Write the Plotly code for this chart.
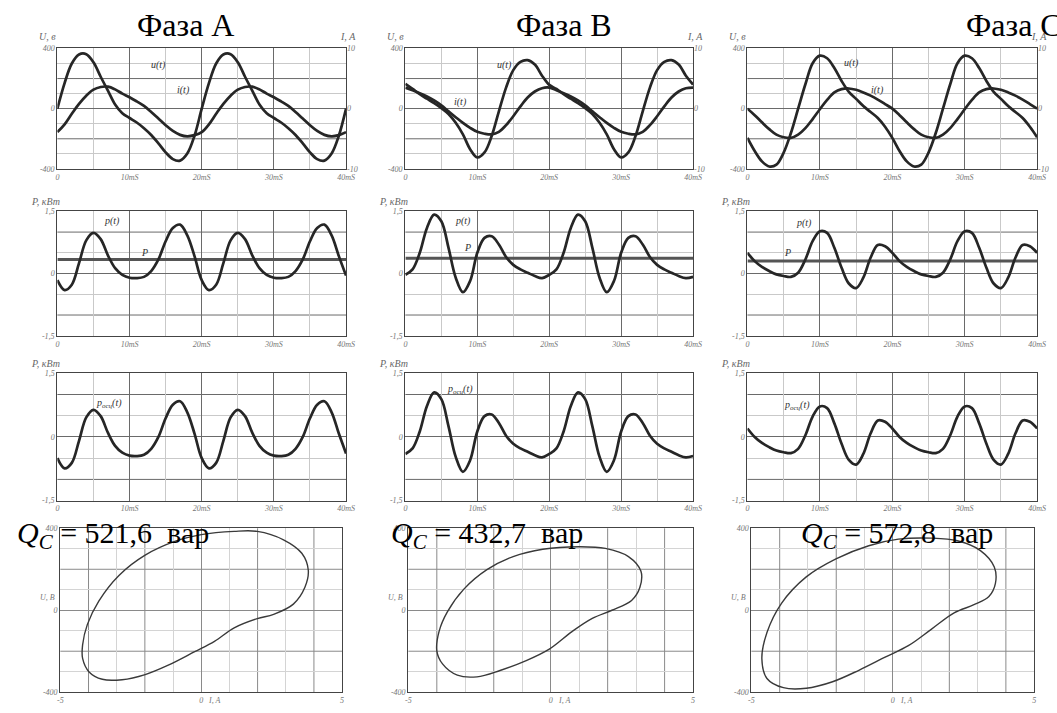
import plotly.graph_objects as go

W, H = 1057, 713

# ---------------- data ----------------
t_ms = list(range(0, 41))
x_tick_vals = [0, 10, 20, 30, 40]
x_tick_text = ["0", "10mS", "20mS", "30mS", "40mS"]
phase_titles = ["Фаза А", "Фаза В", "Фаза С"]
q_values = ["521,6", "432,7", "572,8"]

# phase A voltage (V) and current (A)
u_A = [0, 170, 300, 360, 362, 308, 212, 120, 28, -30, -62, -92, -130, -175, -230, -290, -335, -345, -298, -180,
       0, 170, 300, 360, 362, 308, 212, 120, 28, -30, -62, -92, -130, -175, -230, -290, -335, -345, -298, -180, 0]
i_A = [-3.9, -2.6, -0.85, 0.8, 2.15, 3.15, 3.6, 3.65, 3.2, 2.5, 1.9, 1.2, 0.45, -0.55, -1.65, -2.75, -3.7, -4.35, -4.6, -4.4,
       -3.9, -2.6, -0.85, 0.8, 2.15, 3.15, 3.6, 3.65, 3.2, 2.5, 1.9, 1.2, 0.45, -0.55, -1.65, -2.75, -3.7, -4.35, -4.6, -4.4, -3.9]
# phase B
u_B = [165, 131, 96, 66, 37, 4, -35, -94, -171, -269, -324, -291, -182, -18, 140, 256, 311, 322, 293, 219,
       158, 131, 96, 66, 37, 4, -35, -94, -171, -269, -324, -291, -182, -18, 140, 256, 311, 322, 293, 219, 160]
i_B = [3.5, 3.07, 2.58, 2.03, 1.37, 0.55, -0.44, -1.42, -2.36, -3.18, -3.84, -4.16, -4.27, -3.84, -2.74, -1.26, 0.38, 1.86, 2.85, 3.4,
       3.5, 3.07, 2.58, 2.03, 1.37, 0.55, -0.44, -1.42, -2.36, -3.18, -3.84, -4.16, -4.27, -3.84, -2.74, -1.26, 0.38, 1.86, 2.85, 3.4, 3.5]
# phase C
u_C = [-194, -281, -350, -384, -372, -292, -162, 0, 162, 302, 352, 335, 270, 184, 112, 65, 17, -22, -62, -120,
       -194, -281, -350, -384, -372, -292, -162, 0, 162, 302, 352, 335, 270, 184, 112, 65, 17, -22, -62, -120, -190]
i_C = [0, -1.08, -2.27, -3.4, -4.32, -4.75, -4.86, -4.32, -3.24, -1.73, -0.1, 1.46, 2.7, 3.24, 3.35, 3.13, 2.7, 2.16, 1.51, 0.76,
       0, -1.08, -2.27, -3.4, -4.32, -4.75, -4.86, -4.32, -3.24, -1.73, -0.1, 1.46, 2.7, 3.24, 3.35, 3.13, 2.7, 2.16, 1.51, 0.76, 0]

# instantaneous power (kW)
p_A = [-0.16, -0.40, -0.27, 0.25, 0.80, 0.98, 0.83, 0.44, 0.13, -0.03, -0.10, -0.11, -0.08, 0.06, 0.34, 0.78, 1.10, 1.18, 0.92, 0.42,
       -0.16, -0.40, -0.27, 0.25, 0.80, 0.98, 0.83, 0.44, 0.13, -0.03, -0.10, -0.11, -0.08, 0.06, 0.34, 0.78, 1.10, 1.18, 0.92, 0.42, -0.05]
p_B = [-0.03, 0.10, 0.50, 1.10, 1.42, 1.26, 0.62, -0.10, -0.45, -0.18, 0.50, 0.86, 0.90, 0.70, 0.40, 0.21, 0.10, 0.02, -0.06, -0.11,
       -0.03, 0.10, 0.50, 1.10, 1.42, 1.26, 0.62, -0.10, -0.45, -0.18, 0.50, 0.86, 0.90, 0.70, 0.40, 0.21, 0.10, 0.02, -0.06, -0.11, -0.08]
p_C = [0.50, 0.30, 0.16, 0.06, -0.02, -0.06, -0.08, 0.02, 0.34, 0.78, 1.02, 0.98, 0.62, 0.14, -0.24, -0.35, -0.10, 0.38, 0.69, 0.66,
       0.50, 0.30, 0.16, 0.06, -0.02, -0.06, -0.08, 0.02, 0.34, 0.78, 1.02, 0.98, 0.62, 0.14, -0.24, -0.35, -0.10, 0.38, 0.69, 0.66, 0.50]
# active (mean) power, kW
P_A = 0.34
P_B = 0.37
P_C = 0.30

# volt-ampere loops (I in A, U in V)
liss_i_A = [1.17, 1.99, 2.92, 3.57, 3.8, 3.68, 3.27, 2.57, 1.99, 1.17, 0.47, -0.23, -1.17, -1.99, -2.81, -3.51,
            -3.98, -4.21, -4.21, -4.04, -3.63, -2.92, -1.99, -0.94, 0.0, 1.17]
liss_u_A = [385, 385, 344, 278, 195, 112, 30, -20, -41, -86, -152, -202, -268, -314, -339, -337,
            -301, -235, -169, -69, 46, 170, 269, 336, 369, 385]
liss_i_B = [1.0, 1.92, 2.73, 3.17, 3.13, 2.84, 2.15, 1.46, 0.76, -0.05, -0.86, -1.78, -2.59, -3.28, -3.8,
            -4.0, -3.92, -3.63, -3.05, -2.24, -1.32, -0.28, 1.0]
liss_u_B = [310, 302, 262, 190, 111, 48, 0, -40, -103, -190, -246, -294, -325, -317, -262,
            -198, -103, -8, 103, 198, 262, 298, 310]
liss_i_C = [1.36, 2.29, 3.1, 3.59, 3.63, 3.4, 2.87, 2.17, 1.36, 0.55, -0.27, -1.2, -2.13, -3.06, -3.87,
            -4.45, -4.63, -4.45, -3.93, -3.06, -2.01, -0.85, 0.2, 1.36]
liss_u_C = [352, 339, 291, 211, 131, 67, 27, -13, -93, -173, -229, -293, -349, -381, -378,
            -333, -237, -109, 35, 163, 251, 315, 347, 352]

U_all = [u_A, u_B, u_C]
I_all = [i_A, i_B, i_C]
p_all = [p_A, p_B, p_C]
P_all = [P_A, P_B, P_C]
L_i = [liss_i_A, liss_i_B, liss_i_C]
L_u = [liss_u_A, liss_u_B, liss_u_C]

# ---------------- layout geometry (pixels) ----------------
col_px = [(55, 347), (407, 698), (753, 1046)]
row4_col_px = [(58, 343), (410, 698), (757, 1043)]
row_px = [(45, 167), (210, 336), (374, 503), (531, 697)]

def xd(a, b):
    return [a / W, b / W]

def yd(a, b):
    return [1 - b / H, 1 - a / H]

SERIF = "Liberation Serif"
tickfont = dict(family=SERIF, size=8, color="#777", style="italic")
LINE = "#262626"
MAJ = "#6a6a6a"
MIN = "#c9c9c9"
MAJ4 = "#8a8a8a"
MIN4 = "#d4d4d4"

fig = go.Figure()
layout = {}
shapes = []

def axname(k):
    return ("x" if k == 1 else f"x{k}"), ("y" if k == 1 else f"y{k}")

def base_axis():
    return dict(showline=True, linecolor="#444", linewidth=1.3, mirror=True,
                showgrid=True, gridcolor=MAJ, gridwidth=1, zeroline=False,
                ticks="", tickfont=tickfont, fixedrange=True)

def minor(vals, color):
    return dict(tickmode="array", tickvals=vals, showgrid=True, gridcolor=color, gridwidth=1)

def hgrid(xn, yn, vals, color):
    for v in vals:
        shapes.append(dict(type="line", xref=f"{xn} domain", x0=0, x1=1, yref=yn, y0=v, y1=v,
                           layer="below", line=dict(color=color, width=1)))

def vgrid(xn, yn, vals, color):
    for v in vals:
        shapes.append(dict(type="line", yref=f"{yn} domain", y0=0, y1=1, xref=xn, x0=v, x1=v,
                           layer="below", line=dict(color=color, width=1)))

for r in range(4):
    for c in range(3):
        k = r * 3 + c + 1
        xn, yn = axname(k)
        xa = base_axis()
        ya = base_axis()
        if r < 3:
            xa.update(domain=xd(*col_px[c]), range=[0, 40], tickmode="array",
                      tickvals=x_tick_vals, ticktext=x_tick_text, anchor=yn,
                      minor=minor([5, 15, 25, 35], MIN))
        else:
            xa.update(domain=xd(*row4_col_px[c]), range=[-5, 5], tickmode="array",
                      tickvals=[-5, 0, 5], ticktext=["-5", "0", "5"], anchor=yn,
                      gridcolor=MAJ4, minor=minor([-3, -1, 1, 3], MIN4))
            vgrid(xn, yn, [-4, -2, 2, 4], MAJ4)
        if r == 0:
            ya.update(domain=yd(*row_px[r]), range=[-400, 400], tickmode="array",
                      tickvals=[-400, 0, 400], ticktext=["-400", "0", "400"], anchor=xn,
                      minor=minor([-300, -100, 100, 300], MIN))
            hgrid(xn, yn, [-200, 200], MAJ)
        elif r in (1, 2):
            ya.update(domain=yd(*row_px[r]), range=[-1.5, 1.5], tickmode="array",
                      tickvals=[-1.5, 0, 1.5], ticktext=["-1,5", "0", "1,5"], anchor=xn,
                      minor=minor([-0.5, 0.5], MIN))
            hgrid(xn, yn, [-1, 1], MAJ)
        else:
            ya.update(domain=yd(*row_px[r]), range=[-400, 400], tickmode="array",
                      tickvals=[-400, 0, 400], ticktext=["-400", "0", "400"], anchor=xn,
                      gridcolor=MAJ4, minor=minor([-300, -100, 100, 300], MIN4))
            hgrid(xn, yn, [-200, 200], MAJ4)
        layout["xaxis" if k == 1 else f"xaxis{k}"] = xa
        layout["yaxis" if k == 1 else f"yaxis{k}"] = ya

# right-hand current axes for row 1
for c in range(3):
    k = 13 + c
    xn, yn = axname(c + 1)
    layout[f"yaxis{k}"] = dict(overlaying=yn, anchor=xn, side="right", range=[-10, 10],
                               tickmode="array", tickvals=[-10, 0, 10], ticktext=["-10", "0", "10"],
                               showgrid=False, zeroline=False, showline=False, ticks="",
                               tickfont=tickfont, fixedrange=True)

# ---------------- traces ----------------
for c in range(3):
    # row 1: u(t) and i(t)
    xn, yn = axname(c + 1)
    fig.add_trace(go.Scatter(x=t_ms, y=U_all[c], mode="lines", xaxis=xn, yaxis=yn,
                             line=dict(color=LINE, width=2.7, shape="spline"), showlegend=False))
    fig.add_trace(go.Scatter(x=t_ms, y=I_all[c], mode="lines", xaxis=xn, yaxis=f"y{13 + c}",
                             line=dict(color=LINE, width=2.7, shape="spline"), showlegend=False))
    # row 2: p(t) and P
    xn, yn = axname(4 + c)
    fig.add_trace(go.Scatter(x=[t_ms[0], t_ms[-1]], y=[P_all[c], P_all[c]], mode="lines", xaxis=xn, yaxis=yn,
                             line=dict(color="#555", width=3), showlegend=False))
    fig.add_trace(go.Scatter(x=t_ms, y=p_all[c], mode="lines", xaxis=xn, yaxis=yn,
                             line=dict(color=LINE, width=2.7, shape="spline"), showlegend=False))
    # row 3: oscillating power p(t) - P
    xn, yn = axname(7 + c)
    fig.add_trace(go.Scatter(x=t_ms, y=[v - P_all[c] for v in p_all[c]], mode="lines", xaxis=xn, yaxis=yn,
                             line=dict(color=LINE, width=2.7, shape="spline"), showlegend=False))
    # row 4: loop
    xn, yn = axname(10 + c)
    fig.add_trace(go.Scatter(x=L_i[c], y=L_u[c], mode="lines", xaxis=xn, yaxis=yn,
                             line=dict(color="#3a3a3a", width=1.4, shape="spline"), showlegend=False))

# ---------------- text ----------------
ann = []

def txt(x, y, s, size=10, color="#444", italic=True, xanchor="center", yanchor="middle", family=SERIF):
    ann.append(dict(x=x / W, y=1 - y / H, xref="paper", yref="paper", text=s, showarrow=False,
                    xanchor=xanchor, yanchor=yanchor,
                    font=dict(family=family, size=size, color=color, style="italic" if italic else "normal")))

# axis captions (drawn first so the big titles sit on top)
for c in range(3):
    x0, x1 = col_px[c]
    txt(x0 + 1, 33, "U, в", size=10, color="#666", xanchor="right")
    txt(x1 + 2, 33, "I, A", size=10, color="#666", xanchor="center")
    txt(x0 + 5, 200, "P, кВт", size=10, color="#666", xanchor="right")
    txt(x0 + 5, 364, "P, кВт", size=10, color="#666", xanchor="right")
    lx0, lx1 = row4_col_px[c]
    txt(lx0 - 3, 601, "U, В", size=8, color="#777", xanchor="right")
    txt((lx0 + lx1) / 2 + 5, 705, "I, A", size=8, color="#777", xanchor="left")

title_x = [185, 567, 972]
for c in range(3):
    if c < 2:
        txt(title_x[c], 21, phase_titles[c], size=32, color="#000", italic=False)
    else:
        txt(title_x[c], 21, phase_titles[c], size=32, color="#000", italic=False, xanchor="left")

q_x = [12, 390, 805]
for c in range(3):
    txt(q_x[c], 538, f"<i>Q</i><sub><i>C</i></sub> = {q_values[c]}  вар", size=30, color="#000",
        italic=False, xanchor="left")

# curve labels
lab = [
    (157, 62, "u(t)"), (183, 87, "i(t)"),
    (507, 62, "u(t)"), (463, 99, "i(t)"),
    (858, 60, "u(t)"), (885, 87, "i(t)"),
    (110, 220, "p(t)"), (143, 252, "P"),
    (465, 220, "p(t)"), (470, 247, "P"),
    (810, 222, "p(t)"), (794, 252, "P"),
    (107, 405, "p<sub>осц</sub>(t)"), (462, 390, "p<sub>осц</sub>(t)"), (803, 407, "p<sub>осц</sub>(t)"),
]
for x, y, s in lab:
    txt(x, y, s, size=10, color="#333")

layout.update(width=W, height=H, margin=dict(l=0, r=0, t=0, b=0), autosize=False,
              paper_bgcolor="white", plot_bgcolor="white", annotations=ann, shapes=shapes,
              showlegend=False)
fig.update_layout(**layout)

fig.write_html("out.html", include_plotlyjs=True, config={"displayModeBar": False},
               post_script="document.body.style.margin='0';document.body.style.overflow='hidden';")
